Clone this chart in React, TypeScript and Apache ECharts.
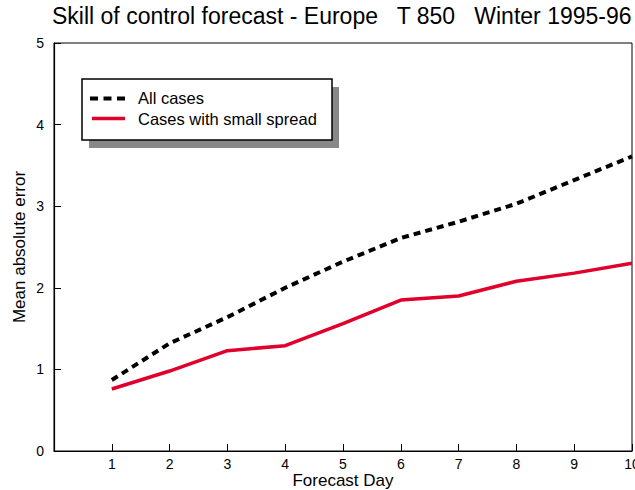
import React, { useEffect, useRef } from "react";
import * as echarts from "echarts";

const days = [1, 2, 3, 4, 5, 6, 7, 8, 9, 10];
const allCases = [0.87, 1.32, 1.64, 2.0, 2.32, 2.61, 2.81, 3.03, 3.32, 3.61];
const smallSpread = [0.76, 0.98, 1.23, 1.29, 1.56, 1.85, 1.9, 2.08, 2.18, 2.3];
const legendNames = ["All cases", "Cases with small spread"];
const titleText = "Skill of control forecast - Europe   T 850   Winter 1995-96";

const FONT = "'Liberation Sans', Arial, sans-serif";
const RED = "#e0002b";

export default function App() {
  const ref = useRef<HTMLDivElement>(null);
  useEffect(() => {
    if (!ref.current) return;
    const chart = echarts.init(ref.current, undefined, { renderer: "svg" });
    chart.setOption({
      animation: false,
      backgroundColor: "#ffffff",
      textStyle: { fontFamily: FONT },
      title: {
        text: titleText,
        left: 52,
        top: 4,
        padding: 0,
        textStyle: { fontFamily: FONT, fontSize: 23, fontWeight: "normal", color: "#000" },
      },
      grid: {
        left: 54,
        top: 43,
        right: 3,
        bottom: 39,
        show: true,
        borderColor: "#000",
        borderWidth: 1,
        backgroundColor: "transparent",
        containLabel: false,
        outerBoundsMode: "none",
      },
      xAxis: {
        type: "value",
        min: 0,
        max: 10,
        interval: 1,
        name: "Forecast Day",
        nameLocation: "middle",
        nameGap: 21,
        nameMoveOverlap: false,
        nameTextStyle: { fontFamily: FONT, fontSize: 17, color: "#000" },
        axisLine: { show: true, lineStyle: { color: "#000", width: 1.2 } },
        axisTick: { show: true, inside: true, length: 7, lineStyle: { color: "#000" } },
        axisLabel: {
          fontFamily: FONT,
          fontSize: 14,
          color: "#000",
          margin: 6,
          showMaxLabel: true,
          formatter: (v: number) => (v === 0 ? "" : String(v)),
        },
        splitLine: { show: false },
      },
      yAxis: {
        type: "value",
        min: 0,
        max: 5,
        interval: 1,
        name: "Mean absolute error",
        nameLocation: "middle",
        nameGap: 26,
        nameMoveOverlap: false,
        nameTextStyle: { fontFamily: FONT, fontSize: 17, color: "#000" },
        axisLine: { show: true, lineStyle: { color: "#000", width: 1.2 } },
        axisTick: { show: true, inside: true, length: 7, lineStyle: { color: "#000" } },
        axisLabel: { fontFamily: FONT, fontSize: 14, color: "#000", margin: 10 },
        splitLine: { show: false },
      },
      series: [
        {
          name: legendNames[0],
          type: "line",
          data: days.map((d, i) => [d, allCases[i]]),
          showSymbol: false,
          lineStyle: { color: "#000", width: 4, type: [7, 5] },
        },
        {
          name: legendNames[1],
          type: "line",
          data: days.map((d, i) => [d, smallSpread[i]]),
          showSymbol: false,
          lineStyle: { color: RED, width: 3.5 },
        },
      ],
      graphic: [
        {
          type: "rect",
          shape: { x: 89, y: 87, width: 250, height: 61 },
          style: { fill: "#888888" },
        },
        {
          type: "rect",
          shape: { x: 82, y: 79, width: 250, height: 61 },
          style: { fill: "#fff", stroke: "#000", lineWidth: 1.5 },
        },
        {
          type: "line",
          shape: { x1: 90, y1: 98.5, x2: 125, y2: 98.5 },
          style: { stroke: "#000", lineWidth: 4, lineDash: [8, 5.5] },
        },
        {
          type: "line",
          shape: { x1: 92, y1: 118.5, x2: 125, y2: 118.5 },
          style: { stroke: RED, lineWidth: 3.5 },
        },
        {
          type: "text",
          x: 138,
          y: 98,
          style: { text: legendNames[0], fontFamily: FONT, fontSize: 16.5, fill: "#000", verticalAlign: "middle" },
        },
        {
          type: "text",
          x: 138,
          y: 119,
          style: { text: legendNames[1], fontFamily: FONT, fontSize: 16.5, fill: "#000", verticalAlign: "middle" },
        },
      ],
    });
    return () => chart.dispose();
  }, []);
  return <div ref={ref} style={{ width: 635, height: 490, position: "absolute", left: 0, top: 0 }} />;
}
